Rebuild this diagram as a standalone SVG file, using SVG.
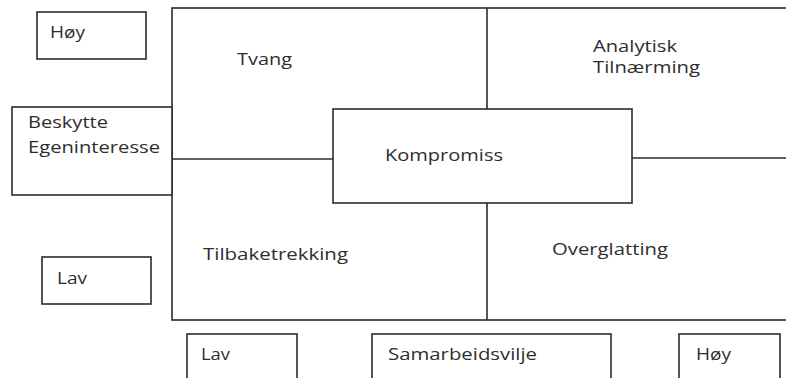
<svg xmlns="http://www.w3.org/2000/svg" width="786" height="378" viewBox="0 0 786 378">
  <style>
    .box { fill: #ffffff; stroke: #2b2b2b; stroke-width: 1.6; }
    .line { fill: none; stroke: #2b2b2b; stroke-width: 1.6; }
    .lbl { font-family: "Open Sans", "Noto Sans", "Liberation Sans", sans-serif; font-size: 17px; fill: #2e2e2e; }
  </style>
  <rect width="786" height="378" fill="#ffffff"/>

  <!-- main grid frame -->
  <g id="grid">
    <rect class="box" x="172" y="8" width="620" height="312"/>
  </g>

  <!-- grid dividers -->
  <g id="connectors">
    <line class="line" x1="487" y1="8" x2="487" y2="109"/>
    <line class="line" x1="487" y1="203" x2="487" y2="320"/>
    <line class="line" x1="172" y1="159" x2="333" y2="159"/>
    <line class="line" x1="632" y1="158" x2="786" y2="158"/>
  </g>

  <!-- quadrant labels -->
  <g id="tvang">
    <text class="lbl" x="237" y="65" textLength="55" lengthAdjust="spacingAndGlyphs">Tvang</text>
  </g>
  <g id="analytisk">
    <text class="lbl" x="593" y="52" textLength="84" lengthAdjust="spacingAndGlyphs">Analytisk</text>
    <text class="lbl" x="593" y="73" textLength="107" lengthAdjust="spacingAndGlyphs">Tilnærming</text>
  </g>
  <g id="tilbaketrekking">
    <text class="lbl" x="203" y="260" textLength="145" lengthAdjust="spacingAndGlyphs">Tilbaketrekking</text>
  </g>
  <g id="overglatting">
    <text class="lbl" x="552" y="255" textLength="116" lengthAdjust="spacingAndGlyphs">Overglatting</text>
  </g>

  <!-- centre box -->
  <g id="kompromiss">
    <rect class="box" x="333" y="109" width="299" height="94"/>
    <text class="lbl" x="385" y="161" textLength="118" lengthAdjust="spacingAndGlyphs">Kompromiss</text>
  </g>

  <!-- vertical axis -->
  <g id="hoy-top">
    <rect class="box" x="37" y="12" width="109" height="47"/>
    <text class="lbl" x="50" y="38" textLength="35" lengthAdjust="spacingAndGlyphs">Høy</text>
  </g>
  <g id="beskytte">
    <rect class="box" x="12" y="107" width="160" height="88"/>
    <text class="lbl" x="28" y="128" textLength="80" lengthAdjust="spacingAndGlyphs">Beskytte</text>
    <text class="lbl" x="28" y="153" textLength="132" lengthAdjust="spacingAndGlyphs">Egeninteresse</text>
  </g>
  <g id="lav-left">
    <rect class="box" x="42" y="257" width="109" height="47"/>
    <text class="lbl" x="57" y="284" textLength="30" lengthAdjust="spacingAndGlyphs">Lav</text>
  </g>

  <!-- horizontal axis -->
  <g id="lav-bottom">
    <rect class="box" x="187" y="334" width="110" height="60"/>
    <text class="lbl" x="201" y="360" textLength="29" lengthAdjust="spacingAndGlyphs">Lav</text>
  </g>
  <g id="samarbeidsvilje">
    <rect class="box" x="372" y="334" width="239" height="60"/>
    <text class="lbl" x="388" y="360" textLength="149" lengthAdjust="spacingAndGlyphs">Samarbeidsvilje</text>
  </g>
  <g id="hoy-bottom">
    <rect class="box" x="679" y="334" width="101" height="60"/>
    <text class="lbl" x="696" y="360" textLength="35" lengthAdjust="spacingAndGlyphs">Høy</text>
  </g>
</svg>
